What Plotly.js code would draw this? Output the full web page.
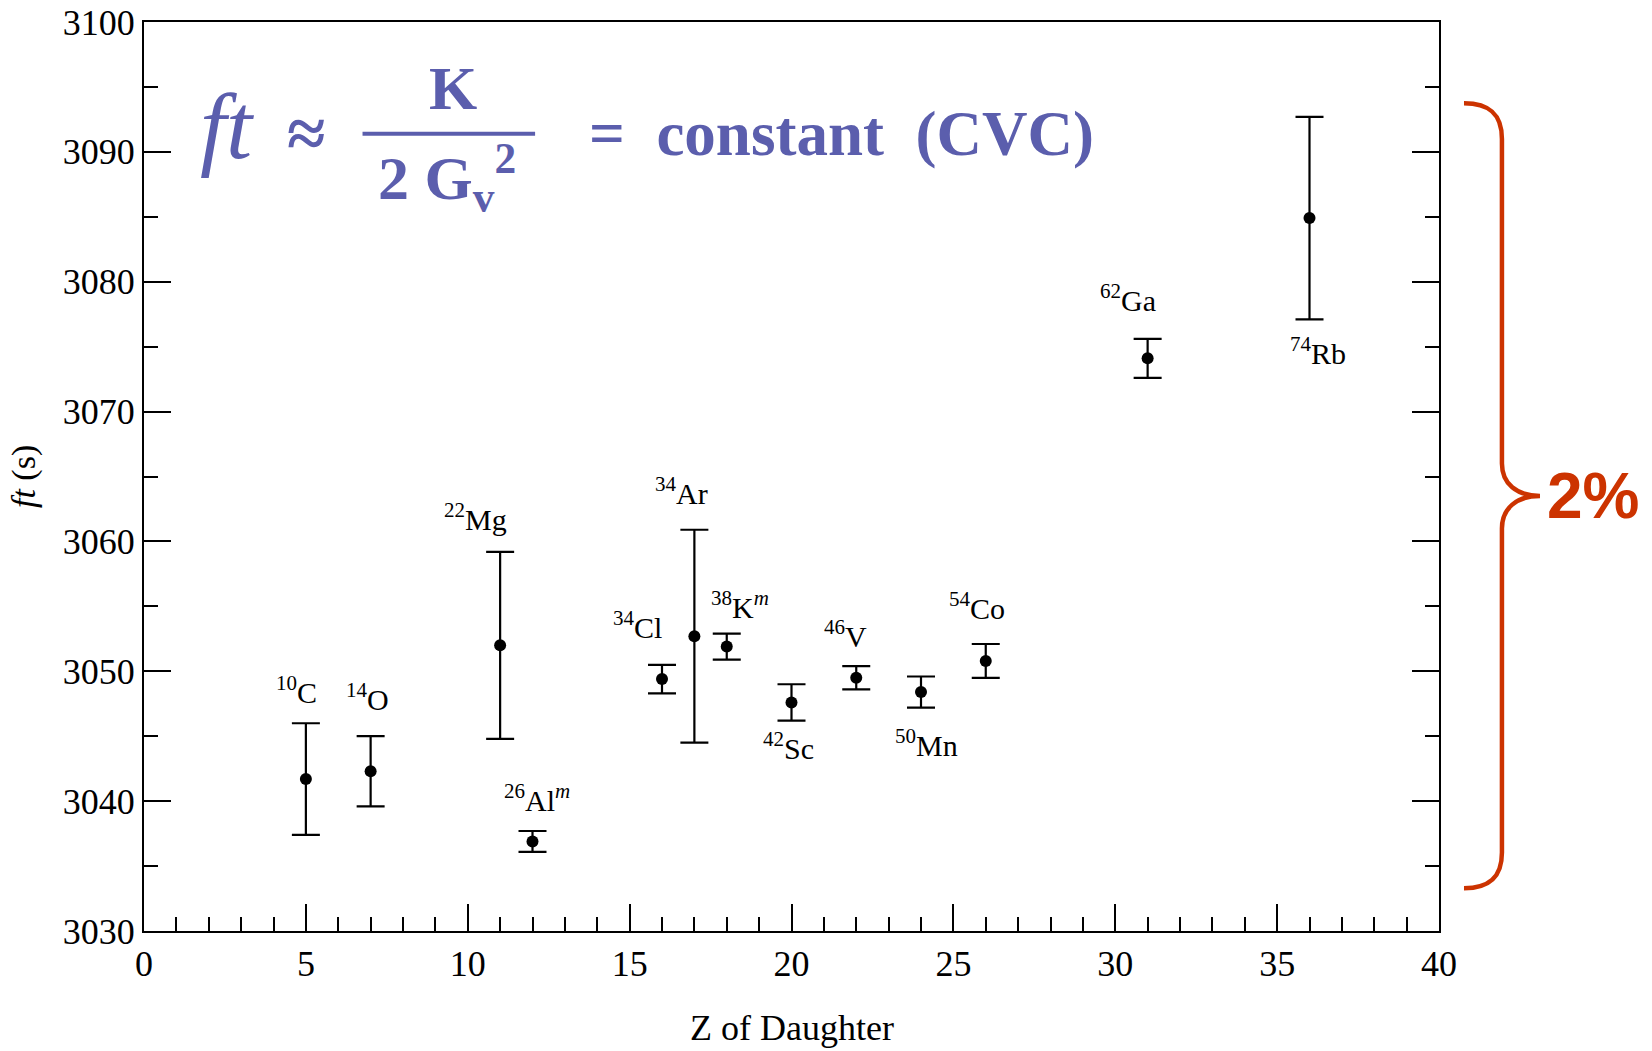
<!DOCTYPE html>
<html>
<head>
<meta charset="utf-8">
<script src="https://cdn.plot.ly/plotly-3.0.1.min.js"></script>
<style>
  html, body { margin: 0; padding: 0; background: #ffffff; }
  #chart { width: 1652px; height: 1051px; }
</style>
</head>
<body>
<div id="chart"></div>
<script>
// ---- data ----
const zDaughter = [5, 7, 11, 12, 16, 17, 18, 20, 22, 24, 26, 31, 36];
const ftValues  = [3041.7, 3042.3, 3052.0, 3036.9, 3049.4, 3052.7, 3051.9, 3047.6, 3049.5, 3048.4, 3050.8, 3074.1, 3084.9];
const ftErrors  = [4.3, 2.7, 7.2, 0.8, 1.1, 8.2, 1.0, 1.4, 0.9, 1.2, 1.3, 1.5, 7.8];
const massNumbers = ['10', '14', '22', '26', '34', '34', '38', '42', '46', '50', '54', '62', '74'];
const elements    = ['C', 'O', 'Mg', 'Al', 'Cl', 'Ar', 'K', 'Sc', 'V', 'Mn', 'Co', 'Ga', 'Rb'];
const isomerFlags = ['', '', '', 'm', '', '', 'm', '', '', '', '', '', ''];
const xTickValues = [0, 5, 10, 15, 20, 25, 30, 35, 40];
const yTickValues = [3030, 3040, 3050, 3060, 3070, 3080, 3090, 3100];

// ---- label placement (pixel offsets from each point) ----
const labelShift = [
  [-9, -89], [-3, -74], [-25, -128], [4, -43], [-25, -54], [-13, -145], [13, -42],
  [-3, 44], [-11, -44], [5, 51], [-9, -55], [-20, -60], [8, 133]
];

const SERIF = 'Liberation Serif, Times New Roman, serif';
const BLUE = '#5B5EAD';
const RED = '#CC3300';

const trace = {
  type: 'scatter',
  mode: 'markers',
  x: zDaughter,
  y: ftValues,
  marker: { color: '#000000', size: 12 },
  error_y: { type: 'data', array: ftErrors, visible: true, color: '#000000', thickness: 2.2, width: 14 },
  showlegend: false,
  hoverinfo: 'x+y'
};

const annotations = [];
for (let i = 0; i < zDaughter.length; i++) {
  let txt = '<sup>' + massNumbers[i] + '</sup>' + elements[i];
  if (isomerFlags[i]) txt += '<sup><i>' + isomerFlags[i] + '</i></sup>';
  annotations.push({
    x: zDaughter[i], y: ftValues[i], xref: 'x', yref: 'y',
    xshift: labelShift[i][0], yshift: -labelShift[i][1],
    text: txt, showarrow: false, xanchor: 'center', yanchor: 'middle',
    font: { family: SERIF, size: 30, color: '#000000' }
  });
}

// formula
annotations.push({
  x: 2.55, y: 3092.0, xref: 'x', yref: 'y', text: '<i>ft</i>', showarrow: false,
  xanchor: 'center', yanchor: 'middle',
  font: { family: SERIF, size: 94, color: BLUE, weight: 'normal' }
});
annotations.push({
  x: 5.0, y: 3091.4, xref: 'x', yref: 'y', text: '\u2248', showarrow: false,
  xanchor: 'center', yanchor: 'middle',
  font: { family: SERIF, size: 70, color: BLUE, weight: 'bold' }
});
annotations.push({
  x: 9.55, y: 3094.9, xref: 'x', yref: 'y', text: 'K', showarrow: false,
  xanchor: 'center', yanchor: 'middle',
  font: { family: SERIF, size: 62, color: BLUE, weight: 'bold' }
});
annotations.push({
  x: 9.35, y: 3088.0, xref: 'x', yref: 'y', text: '2 G<sub>v</sub><sup>2</sup>', showarrow: false,
  xanchor: 'center', yanchor: 'middle',
  font: { family: SERIF, size: 62, color: BLUE, weight: 'bold' }
});
annotations.push({
  x: 13.68, y: 3091.4, xref: 'x', yref: 'y', text: '=\u00A0\u00A0constant\u00A0\u00A0(CVC)', showarrow: false,
  xanchor: 'left', yanchor: 'middle',
  font: { family: SERIF, size: 63, color: BLUE, weight: 'bold' }
});

// brace label
annotations.push({
  x: 1.119, y: 0.4786, xref: 'paper', yref: 'paper', text: '2%', showarrow: false,
  xanchor: 'center', yanchor: 'middle',
  font: { family: 'Liberation Sans, Arial, sans-serif', size: 64, color: RED, weight: 'bold' }
});

// axis titles
annotations.push({
  x: -0.093, y: 0.5, xref: 'paper', yref: 'paper', text: '<i>ft</i> (s)', showarrow: false,
  textangle: -90, xanchor: 'center', yanchor: 'middle',
  font: { family: SERIF, size: 34, color: '#000000' }
});
annotations.push({
  x: 0.5, y: -0.107, xref: 'paper', yref: 'paper', text: 'Z of Daughter', showarrow: false,
  xanchor: 'center', yanchor: 'middle',
  font: { family: SERIF, size: 36, color: '#000000' }
});

const shapes = [
  // fraction bar
  { type: 'line', xref: 'x', yref: 'y', x0: 6.75, x1: 12.08, y0: 3091.4, y1: 3091.4,
    line: { color: BLUE, width: 4 } },
  // curly brace
  { type: 'path', xref: 'paper', yref: 'paper',
    path: 'M 1.0193,0.9107 C 1.038,0.9107 1.0486,0.900 1.0486,0.8714 ' +
          'L 1.0486,0.5143 C 1.0486,0.492 1.060,0.4786 1.0780,0.4786 ' +
          'C 1.060,0.4786 1.0486,0.465 1.0486,0.4429 ' +
          'L 1.0486,0.0864 C 1.0486,0.058 1.038,0.0471 1.0193,0.0471',
    line: { color: RED, width: 4.5 } }
];

const axisCommon = {
  showgrid: false, zeroline: false, showline: true, linecolor: '#000000', linewidth: 2,
  ticks: 'inside', tickcolor: '#000000', tickwidth: 2, ticklen: 27,
  tickfont: { family: SERIF, size: 36, color: '#000000' }
};

const layout = {
  width: 1652, height: 1051,
  margin: { l: 144, r: 213, t: 22, b: 120, pad: 0 },
  paper_bgcolor: '#ffffff', plot_bgcolor: '#ffffff',
  xaxis: Object.assign({}, axisCommon, {
    range: [0, 40], tickmode: 'array', tickvals: xTickValues, mirror: true,
    minor: { dtick: 1, ticks: 'inside', ticklen: 14, tickwidth: 2, tickcolor: '#000000', showgrid: false }
  }),
  yaxis: Object.assign({}, axisCommon, {
    range: [3030, 3100], tickmode: 'array', tickvals: yTickValues, mirror: 'ticks',
    minor: { dtick: 5, ticks: 'inside', ticklen: 14, tickwidth: 2, tickcolor: '#000000', showgrid: false }
  }),
  annotations: annotations,
  shapes: shapes,
  showlegend: false
};

Plotly.newPlot('chart', [trace], layout, { displayModeBar: false, staticPlot: true });
</script>
</body>
</html>
